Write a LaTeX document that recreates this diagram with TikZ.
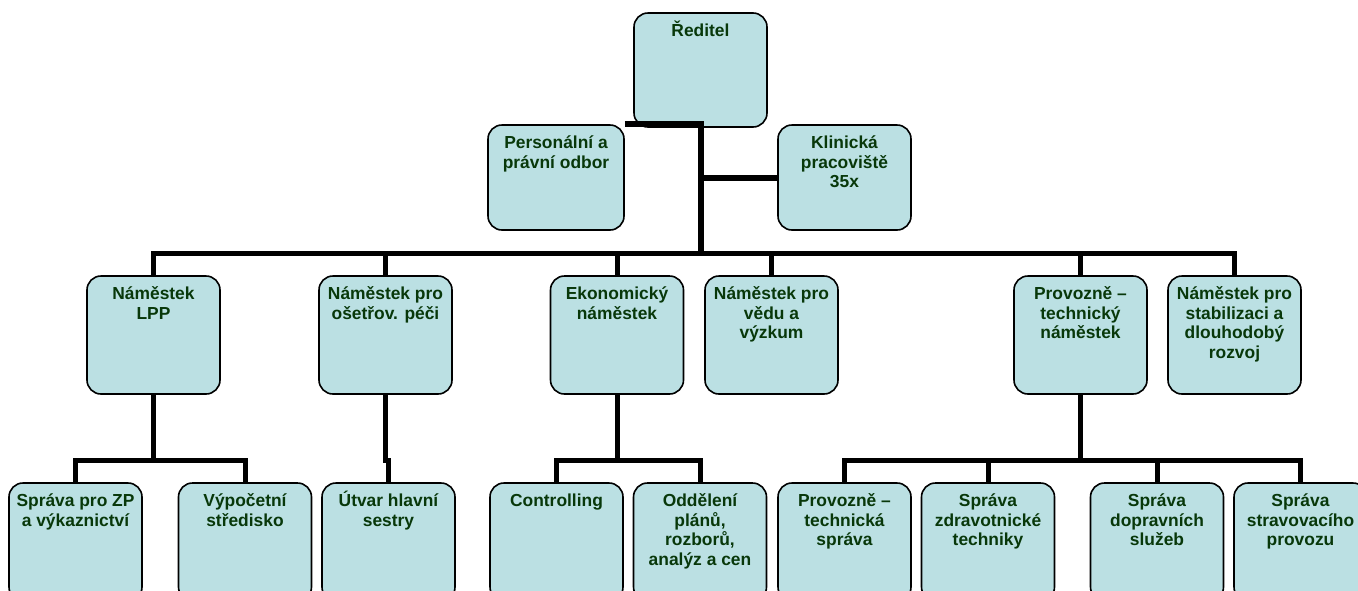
\documentclass[tikz,border=0pt]{standalone}
\usepackage{fontspec}
\setmainfont{Liberation Sans}
\definecolor{boxfill}{RGB}{187,224,227}
\definecolor{txtgreen}{RGB}{8,56,10}
\newcommand{\bxt}[3]{\parbox[c][#2][t]{#1}{\centering\rule{0pt}{23.5pt}#3}}
\begin{document}
\begin{tikzpicture}[x=1pt,y=-1pt,
  box/.style={draw=black, line width=1.6pt, fill=boxfill, rounded corners=14pt,
    inner xsep=3pt, inner ysep=0pt, text=txtgreen,
    font=\fontsize{17.4}{19.6}\selectfont\bfseries},
  conn/.style={draw=black, line width=5pt, line join=miter},
  connt/.style={draw=black, line width=6pt, line join=miter}]
\useasboundingbox (0,0) rectangle (1358,590);
\clip (0,0) rectangle (1358,590);
% top level
\node[box] (red) at (700.5,70) {\bxt{127pt}{114pt}{Ředitel}};
\node[box] (pers) at (556,177.5) {\bxt{130pt}{105pt}{Personální a\\právní odbor}};
\node[box] (klin) at (844.5,177.5) {\bxt{127pt}{105pt}{Klinická\\pracoviště\\35x}};
% level 2
\node[box] (lpp) at (153.5,335) {\bxt{127pt}{118pt}{Náměstek\\LPP}};
\node[box] (ose) at (385.5,335) {\bxt{127pt}{118pt}{Náměstek pro\\ošetřov. péči}};
\node[box] (eko) at (617,335) {\bxt{127pt}{118pt}{Ekonomický\\náměstek}};
\node[box] (veda) at (771.5,335) {\bxt{127pt}{118pt}{Náměstek pro\\vědu a\\výzkum}};
\node[box] (pt) at (1080.5,335) {\bxt{127pt}{118pt}{Provozně –\\technický\\náměstek}};
\node[box] (stab) at (1234.5,335) {\bxt{127pt}{118pt}{Náměstek pro\\stabilizaci a\\dlouhodobý\\rozvoj}};
% level 3
\node[box] (zp) at (75.5,542) {\bxt{127pt}{118pt}{Správa pro ZP\\a výkaznictví}};
\node[box] (vyp) at (245,542) {\bxt{127pt}{118pt}{Výpočetní\\středisko}};
\node[box] (utv) at (388.5,542) {\bxt{127pt}{118pt}{Útvar hlavní\\sestry}};
\node[box] (ctrl) at (556.5,542) {\bxt{127pt}{118pt}{Controlling}};
\node[box] (odd) at (700,542) {\bxt{127pt}{118pt}{Oddělení\\plánů,\\rozborů,\\analýz a cen}};
\node[box] (pts) at (844.5,542) {\bxt{127pt}{118pt}{Provozně –\\technická\\správa}};
\node[box] (zdr) at (988,542) {\bxt{127pt}{118pt}{Správa\\zdravotnické\\techniky}};
\node[box] (dop) at (1157,542) {\bxt{127pt}{118pt}{Správa\\dopravních\\služeb}};
\node[box] (strav) at (1300.5,542) {\bxt{127pt}{118pt}{Správa\\stravovacího\\provozu}};
% bus coordinates
\coordinate (b2) at (0,253);
\coordinate (b3) at (0,460);
% top connectors
\draw[connt] (pers.north east) -- (pers.north -| red.south) -- (red.south |- b2);
\draw[connt] (klin.west) -- (klin.west -| red.south);
% level-2 bus
\draw[conn] (lpp.north) -- (lpp.north |- b2) -- (stab.north |- b2) -- (stab.north);
\draw[conn] (ose.north) -- (ose.north |- b2);
\draw[conn] (eko.north) -- (eko.north |- b2);
\draw[conn] (veda.north) -- (veda.north |- b2);
\draw[conn] (pt.north) -- (pt.north |- b2);
% level-3 connectors
\draw[conn] (lpp.south) -- (lpp.south |- b3);
\draw[conn] (zp.north) -- (zp.north |- b3) -- (vyp.north |- b3) -- (vyp.north);
\draw[conn] (ose.south) -- (ose.south |- b3) -| (utv.north);
\draw[conn] (eko.south) -- (eko.south |- b3);
\draw[conn] (ctrl.north) -- (ctrl.north |- b3) -- (odd.north |- b3) -- (odd.north);
\draw[conn] (pt.south) -- (pt.south |- b3);
\draw[conn] (pts.north) -- (pts.north |- b3) -- (strav.north |- b3) -- (strav.north);
\draw[conn] (zdr.north) -- (zdr.north |- b3);
\draw[conn] (dop.north) -- (dop.north |- b3);
\end{tikzpicture}
\end{document}
